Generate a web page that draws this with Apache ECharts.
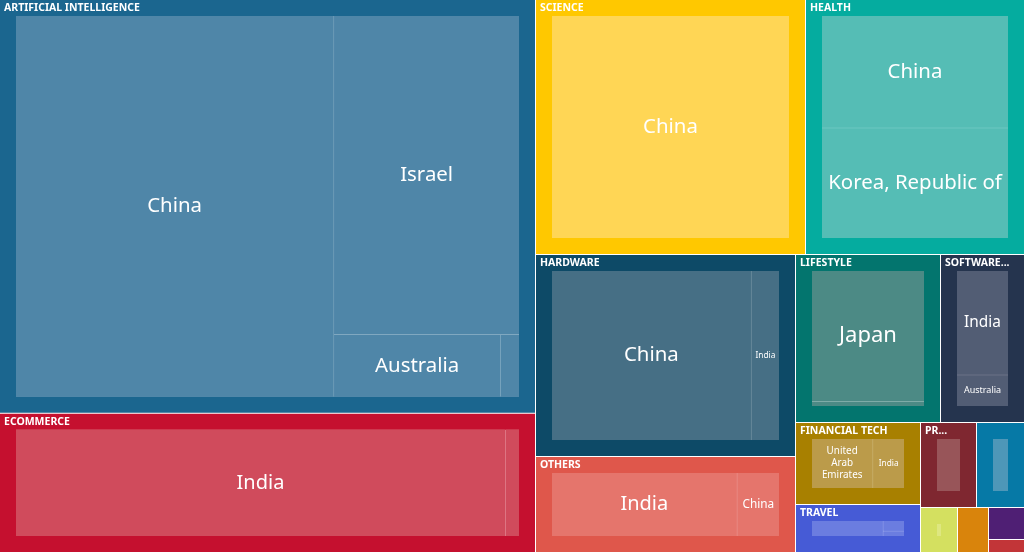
<!DOCTYPE html>
<html><head><meta charset="utf-8">
<style>html,body{margin:0;padding:0;background:#fff}#c{width:1024px;height:552px}</style>
<script src="https://cdn.jsdelivr.net/npm/echarts@6/dist/echarts.min.js"></script>
</head><body><div id="c"></div>
<script>
const aiNames = ['China','Israel','Australia','AI other'];
const aiValues = [139527,68033,12018,1376];
const ecomNames = ['India','Ecommerce other'];
const ecomValues = [72291,2074];
const scienceNames = ['China'];
const scienceValues = [68580];
const healthNames = ['China','Korea, Republic of'];
const healthValues = [28060,27566];
const hardwareNames = ['China','India'];
const hardwareValues = [46013,6507];
const othersNames = ['India','China'];
const othersValues = [20321,4639];
const lifestyleNames = ['Japan','Lifestyle other'];
const lifestyleValues = [23451,909];
const softwareNames = ['India','Australia'];
const softwareValues = [10848,3264];
const fintechNames = ['United\nArab\nEmirates','India'];
const fintechValues = [6841,3534];
const travelNames = ['Travel A','Travel B','Travel C'];
const travelValues = [4523,901,451];
const prNames = ['PR A'];
const prValues = [4760];
const blueNames = ['Blue A'];
const blueValues = [4080];
const limeNames = ['Lime A'];
const limeValues = [1665];
const orangeNames = ['Orange A'];
const orangeValues = [1395];
const purpleNames = ['Purple A'];
const purpleValues = [1152];
const redNames = ['Red A'];
const redValues = [468];

const groupNames = ['ARTIFICIAL INTELLIGENCE','ECOMMERCE','SCIENCE','HEALTH','HARDWARE','OTHERS','LIFESTYLE','SOFTWARE...','FINANCIAL TECH','TRAVEL','PR...','','','','',''];
const groupColors = ['#1b668f','#c5102f','#ffc800','#05ac9f','#0d4a67','#df574b','#03756e','#25344e','#a88000','#465bd6','#7f2730','#0679a6','#d4e060','#d9840c','#4f1f74','#c23538'];
const leafColors = ['#4f86a8','#d04b5c','#ffd655','#55bdb5','#466f85','#e5756c','#4c8a85','#525d74','#bb9b4a','#6b7de0','#985559','#4e97b8','#dee780','#e2a34a','#7a5796','#d1676a'];
const groupLeafNames = [aiNames,ecomNames,scienceNames,healthNames,hardwareNames,othersNames,lifestyleNames,softwareNames,fintechNames,travelNames,prNames,blueNames,limeNames,orangeNames,purpleNames,redNames];
const groupLeafValues = [aiValues,ecomValues,scienceValues,healthValues,hardwareValues,othersValues,lifestyleValues,softwareValues,fintechValues,travelValues,prValues,blueValues,limeValues,orangeValues,purpleValues,redValues];
const leafFontSizes = [[20.4,20.4,20.4,0],[20,0],[20.4],[20.4,20.4],[20.4,8.3],[20,11.8],[22,0],[15.4,9],[9.9,8.3],[0,0,0],[0],[0],[0],[0],[0],[0]];

// Each block of the layout: the groups it holds and where it sits on the page
const blocks = [
  {groups:[0,1],      left:0,   top:0,   width:535, height:552, ratio:1},
  {groups:[2,3],      left:536, top:0,   width:488, height:254, ratio:1},
  {groups:[4,5],      left:536, top:255, width:259, height:297, ratio:1},
  {groups:[6,7],      left:796, top:255, width:228, height:167, ratio:1},
  {groups:[8],        left:796, top:423, width:124, height:81,  ratio:1},
  {groups:[9],        left:796, top:505, width:124, height:47,  ratio:2.2},
  {groups:[10,11],    left:921, top:423, width:103, height:84,  ratio:1},
  {groups:[12,13,14,15], left:921, top:508, width:103, height:44, ratio:1}
];

const FONT = '"Noto Sans", sans-serif';
const mix = (c,t) => echarts.color.lerp(t,[c,'#ffffff']);
const makeGroup = i => {
  const g = groupNames[i];
  return {
    name: g || ('Group '+i),
    itemStyle:{borderColor:groupColors[i]},
    upperLabel:{show: !!g},
    children: [{
      // inner panel: its own fill shows through the 1px gaps as the light dividing lines
      name: (g || ('Group '+i)) + ' panel',
      itemStyle:{borderColor:mix(leafColors[i],0.28)},
      children: groupLeafNames[i].map((n,j)=>{
        const fs = leafFontSizes[i][j];
        return {
          name:n,
          value:groupLeafValues[i][j],
          itemStyle:{color:leafColors[i],borderWidth:0,borderColor:leafColors[i],gapWidth:0},
          label: fs ? {show:true,fontSize:fs,lineHeight:Math.round(fs*1.2)} : {show:false}
        };
      })
    }]
  };
};

const chart = echarts.init(document.getElementById('c'),null,{renderer:'canvas'});
chart.setOption({
  animation:false,
  backgroundColor:'#fff',
  series:blocks.map(b=>({
    type:'treemap',
    left:b.left,top:b.top,width:b.width,height:b.height,
    squareRatio:b.ratio,
    roam:false,nodeClick:false,
    breadcrumb:{show:false},
    visibleMin:0,
    leafDepth:null,
    data:b.groups.map(makeGroup),
    label:{show:true,color:'#fff',fontFamily:FONT,align:'center',verticalAlign:'middle',position:'inside',overflow:'none'},
    upperLabel:{show:false},
    levels:[
      {itemStyle:{borderWidth:0,gapWidth:1,borderColor:'#fff'},upperLabel:{show:false}},
      {itemStyle:{borderWidth:16,gapWidth:0},upperLabel:{show:true,height:14,color:'#fff',fontFamily:FONT,fontWeight:700,fontSize:10.5,overflow:'none',verticalAlign:'middle',align:'left',offset:[-12,0]}},
      {itemStyle:{borderWidth:0,gapWidth:1},upperLabel:{show:false}},
      {}
    ]
  }))
});
</script></body></html>
